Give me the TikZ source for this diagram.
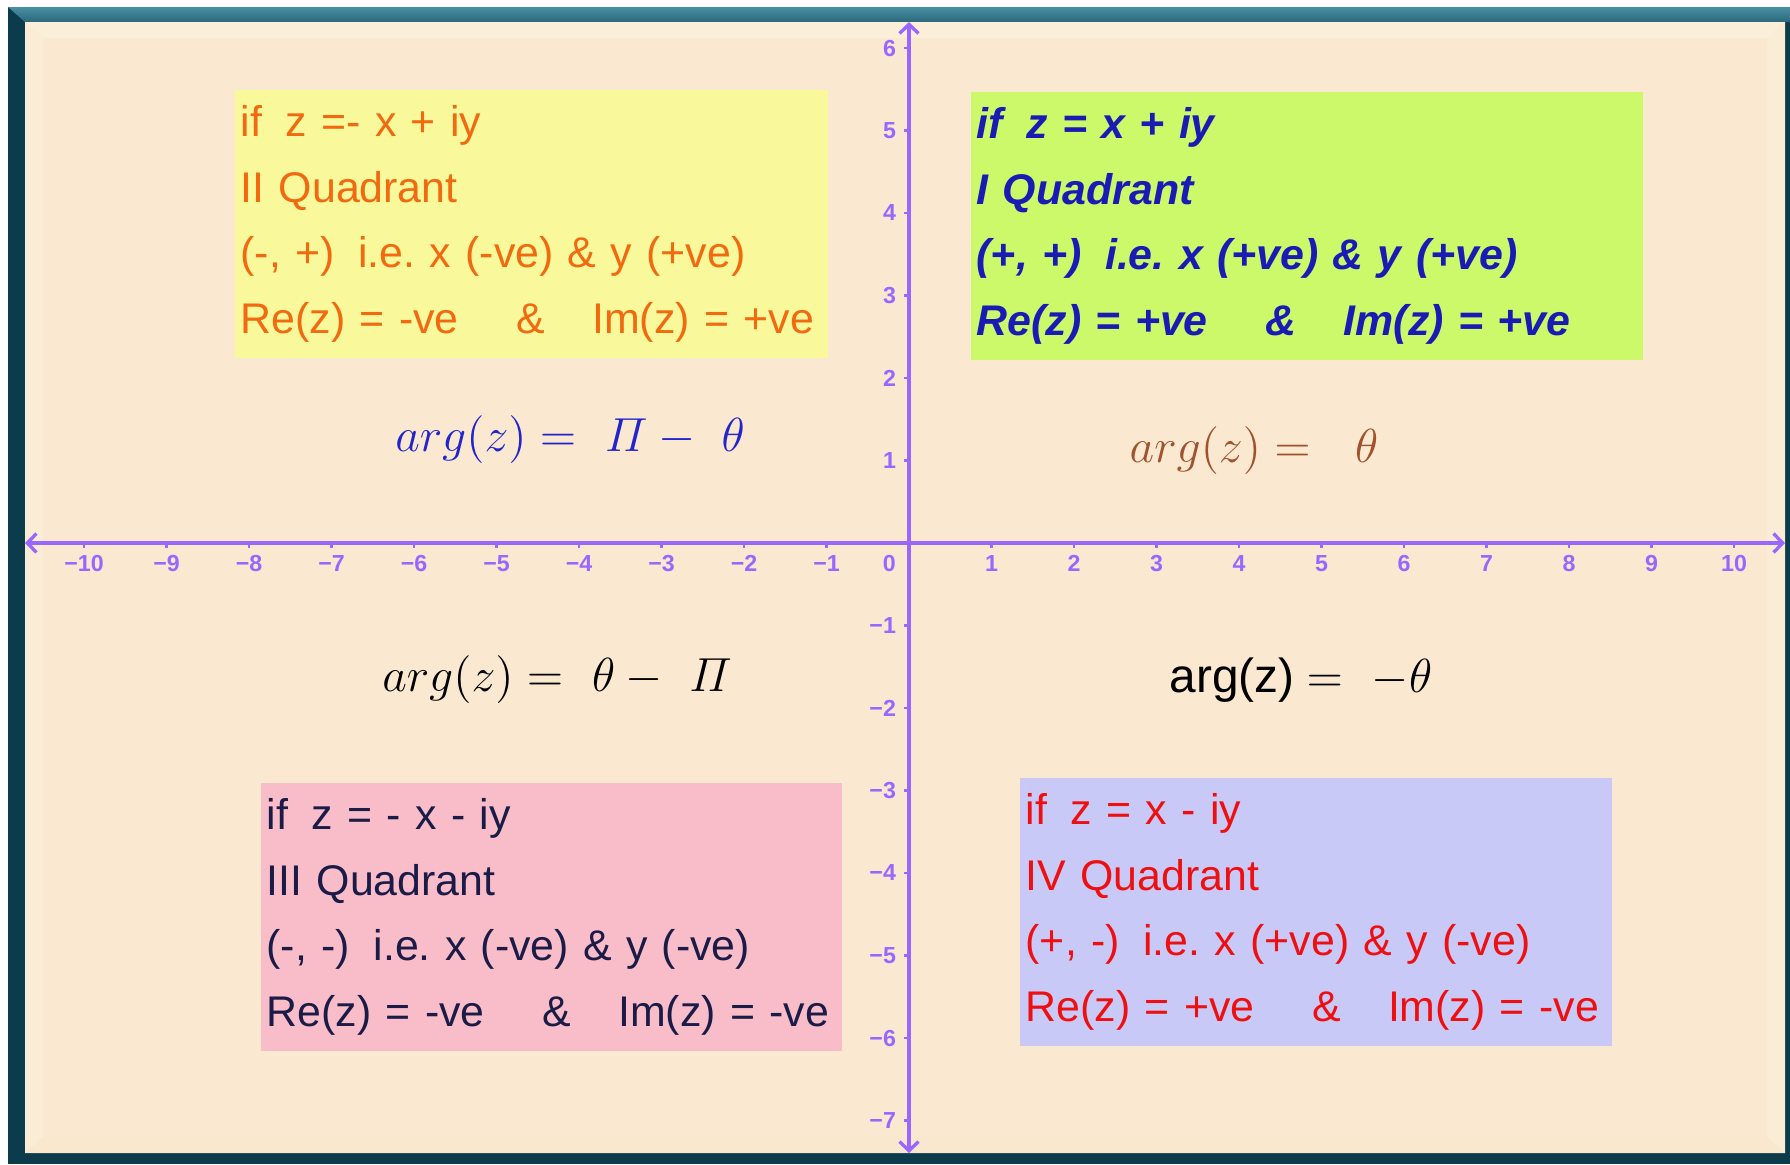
\RequirePackage{fix-cm}
\documentclass[tikz,border=0pt]{standalone}
\usepackage{amsmath}
\usepackage[no-math]{fontspec}
\newfontfamily\arialfont{Liberation Sans}
\usepackage{xcolor}
\usepackage{tikz}
\usetikzlibrary{arrows.meta, positioning}

\definecolor{framedark}{HTML}{0C3B4B}
\definecolor{frametop}{HTML}{4790A4}
\definecolor{frametopdk}{HTML}{2C687B}
\definecolor{paper}{HTML}{FAE9D0}
\definecolor{bevellight}{HTML}{FCEFDA}
\definecolor{bevelside}{HTML}{FBECD5}
\definecolor{beveldark}{HTML}{F9E8CE}
\definecolor{axispurple}{HTML}{9966FF}
\definecolor{boxyellow}{HTML}{F9F89B}
\definecolor{boxgreen}{HTML}{CBF96A}
\definecolor{boxpink}{HTML}{F8BDC8}
\definecolor{boxlav}{HTML}{C9C9F8}
\definecolor{txtorange}{HTML}{F26A10}
\definecolor{txtblue}{HTML}{1A1AB5}
\definecolor{txtnavy}{HTML}{1B1B48}
\definecolor{txtred}{HTML}{EE1010}
\definecolor{argblue}{HTML}{2424CC}
\definecolor{argbrown}{HTML}{A0522D}

\newcommand\boxfont{\arialfont\fontsize{12.2}{18.64}\selectfont\frenchspacing}
\newcommand\argfont{\fontsize{13.6}{16}\selectfont}
\newcommand\gap{\hspace{0.55em}}

\tikzset{
  % Quadrant boxes
  quadbox/.style 2 args={rectangle, anchor=north west, fill=#1, text width=#2, inner xsep=0.6mm, inner ysep=0pt, minimum height=26.8mm, align=left, font=\boxfont},
  % arg(z) labels
  argtext/.style={inner sep=0pt, font=\argfont},
  % Axes
  axisline/.style={axispurple, line width=0.95pt, {Straight Barb[length=2.6pt,width=5.4pt]}-{Straight Barb[length=2.6pt,width=5.4pt]}},
  tickmark/.style={axispurple, line width=0.8pt},
  ticklab/.style={inner sep=0pt, text=axispurple, font=\arialfont\bfseries\fontsize{6.6}{8}\selectfont},
}

\begin{document}
\begin{tikzpicture}[x=0.1mm, y=-0.1mm]
  \useasboundingbox (0,0) rectangle (1790,1164);

  % Frame
  \fill[white] (0,0) rectangle (1790,1164);
  \fill[framedark] (8,7) rectangle (1790,1164);
  \shade[top color=frametop, bottom color=frametopdk] (8,7) -- (1790,7) -- (1790,22) -- (25,22) -- cycle;
  \fill[paper] (25,22) rectangle (1785,1153);
  \fill[bevellight] (25,22) -- (1785,22) -- (1767,38) -- (43,38) -- cycle;
  \fill[bevelside] (25,22) -- (43,38) -- (43,1137) -- (25,1153) -- cycle;
  \fill[bevelside] (1785,22) -- (1767,38) -- (1767,1137) -- (1785,1153) -- cycle;
  \fill[beveldark] (25,1153) -- (43,1137) -- (1767,1137) -- (1785,1153) -- cycle;

  % Axes
  \begin{scope}[shift={(909,543)}, x=8.25mm, y=8.25mm]
    \coordinate (xmin) at (-10.715,0);
    \coordinate (xmax) at (10.618,0);
    \coordinate (ymax) at (0,6.315);
    \coordinate (ymin) at (0,-7.394);
    \draw[axisline] (xmin) -- (xmax);
    \draw[axisline] (ymin) -- (ymax);
    \foreach \i in {1,...,10} {
      \draw[tickmark] (\i,0) -- (\i,-0.06);
      \draw[tickmark] (-\i,0) -- (-\i,-0.06);
      \node[ticklab] (xlp\i) at (\i,-0.245) {\i};
      \node[ticklab] (xlm\i) at (-\i,-0.245) {−\i};
    }
    \node[ticklab] (xl0) at (-0.24,-0.245) {0};
    \foreach \j in {1,...,6} {
      \draw[tickmark] (0,\j) -- (-0.06,\j);
      \node[ticklab, anchor=east] (ylp\j) at (-0.15,\j) {\j};
    }
    \foreach \j in {1,...,7} {
      \draw[tickmark] (0,-\j) -- (-0.06,-\j);
      \node[ticklab, anchor=east] (ylm\j) at (-0.15,-\j) {−\j};
    }
  \end{scope}

  % Quadrant boxes
  \node[quadbox={boxyellow}{58.1mm}, text=txtorange] (quadII) at (234,89)
    {if\gap z =- x + iy\\II Quadrant\\(-, +)\gap i.e. x (-ve) \& y (+ve)\\Re(z) = -ve\hspace{1.35em}\&\hspace{1.1em}Im(z) = +ve};
  \node[quadbox={boxgreen}{66.0mm}, text=txtblue, font=\boxfont\bfseries\itshape] (quadI) at (970,91)
    {if\gap z = x + iy\\I Quadrant\\(+, +)\gap i.e. x (+ve) \& y (+ve)\\Re(z) = +ve\hspace{1.35em}\&\hspace{1.1em}Im(z) = +ve};
  \node[quadbox={boxpink}{56.9mm}, text=txtnavy] (quadIII) at (260,782)
    {if\gap z = - x - iy\\III Quadrant\\(-, -)\gap i.e. x (-ve) \& y (-ve)\\Re(z) = -ve\hspace{1.35em}\&\hspace{1.1em}Im(z) = -ve};
  \node[quadbox={boxlav}{58.0mm}, text=txtred] (quadIV) at (1019,777)
    {if\gap z = x - iy\\IV Quadrant\\(+, -)\gap i.e. x (+ve) \& y (-ve)\\Re(z) = +ve\hspace{1.35em}\&\hspace{1.1em}Im(z) = -ve};

  % Arguments
  \node[argtext, text=argblue] (argII) at (570,440) {$arg(z) = \ \varPi - \ \theta$};
  \node[argtext, text=argbrown] (argI) at (1254,451) {$arg(z) = \ \ \theta$};
  \node[argtext] (argIII) at (557,680) {$arg(z) = \ \theta - \ \varPi$};
  \node[argtext] (argIV) at (1301,680) {{\arialfont arg(z)}\hspace{0.25em}$= \ -\theta$};
\end{tikzpicture}
\end{document}
